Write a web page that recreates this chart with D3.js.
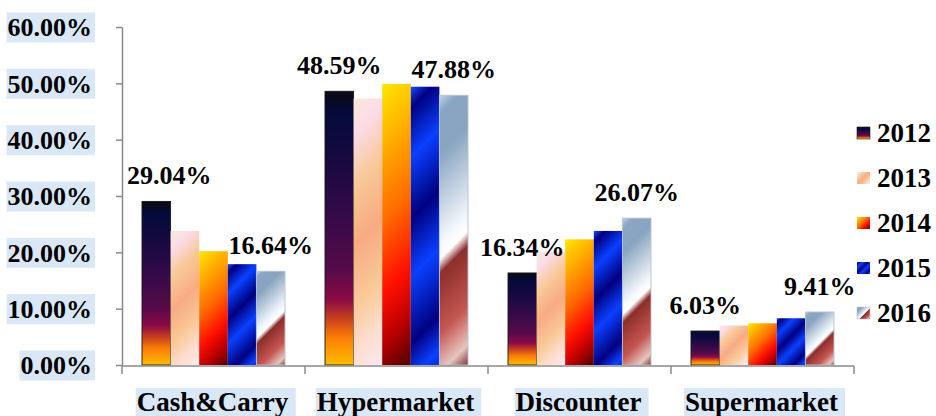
<!DOCTYPE html>
<html>
<head>
<meta charset="utf-8">
<script src="https://cdn.jsdelivr.net/npm/d3@7"></script>
<style>
  html, body { margin: 0; padding: 0; background: #ffffff; }
  svg { display: block; }
  text { font-family: "Liberation Serif", "Times New Roman", serif; font-weight: bold; fill: #000; }
</style>
</head>
<body>
<svg id="chart" width="936" height="416"></svg>
<script>
// ---- data ----
const categories = ["Cash&Carry", "Hypermarket", "Discounter", "Supermarket"];
const series = ["2012", "2013", "2014", "2015", "2016"];
const values2012 = [29.04, 48.59, 16.34, 6.03];
const values2013 = [23.8, 47.3, 20.1, 7.0];
const values2014 = [20.2, 49.9, 22.3, 7.4];
const values2015 = [17.9, 49.4, 23.8, 8.3];
const values2016 = [16.64, 47.88, 26.07, 9.41];
const yTicks = [0, 10, 20, 30, 40, 50, 60];
const labeledSeries = ["2012", "2016"];

const valuesBySeries = {
  "2012": values2012, "2013": values2013, "2014": values2014,
  "2015": values2015, "2016": values2016
};

// ---- fills (gradient presets) ----
const fills = {
  "2012": { dir: "v", stops: [[0,"#0b0a12"],[0.08,"#050a3c"],[0.2,"#10093f"],[0.45,"#340a48"],[0.65,"#560a48"],[0.76,"#8a0a46"],[0.83,"#c8401e"],[0.9,"#fb7d06"],[1,"#ffbd00"]], stroke: "#1a1a1a" },
  "2013": { dir: "d", stops: [[0,"#fbe8d8"],[0.12,"#fbdcea"],[0.3,"#f9c896"],[0.5,"#f8ab82"],[0.7,"#f9c896"],[0.88,"#fde0d4"],[1,"#fde8ee"]], stroke: "none" },
  "2014": { dir: "d", stops: [[0,"#ffe600"],[0.2,"#ffb000"],[0.45,"#ff6a00"],[0.68,"#ff1000"],[0.83,"#c00000"],[1,"#500000"]], stroke: "none" },
  "2015": { dir: "d", stops: [[0,"#1a4cff"],[0.07,"#000080"],[0.23,"#0a40ff"],[0.43,"#000080"],[0.62,"#0a40ff"],[0.84,"#000080"],[0.95,"#0a40ff"],[1,"#0030d0"]], stroke: "none" },
  "2016": { dir: "d", stops: [[0,"#c4d4e4"],[0.06,"#8aa6c4"],[0.2,"#88a4c0"],[0.5,"#f4f8fc"],[0.55,"#ffffff"],[0.6,"#8c2e2a"],[0.8,"#c45650"],[0.93,"#e6c4c0"],[1,"#7a3a30"]], stroke: "#b6c2d2" }
};

const svg = d3.select("#chart");
const defs = svg.append("defs");
let gradCount = 0;
// x, y are in the local coordinate system of the element using the gradient
function makeGrad(key, x, y, w, h) {
  const f = fills[key];
  const id = "g" + (gradCount++);
  const g = defs.append("linearGradient").attr("id", id).attr("gradientUnits", "userSpaceOnUse");
  if (f.dir === "v") {
    g.attr("x1", x).attr("y1", y).attr("x2", x).attr("y2", y + h);
  } else {
    const d = (w + h) / 2;
    g.attr("x1", x).attr("y1", y).attr("x2", x + d).attr("y2", y + d);
  }
  f.stops.forEach(s => g.append("stop").attr("offset", s[0]).attr("stop-color", s[1]));
  return "url(#" + id + ")";
}

// ---- scales ----
const x0 = d3.scaleBand().domain(categories).range([122, 854]).padding(0);
const x1 = d3.scaleBand().domain(series).range([20, x0.bandwidth() - 20]).padding(0);
const y = d3.scaleLinear().domain([0, 60]).range([365, 27]);

const labelBg = "#dae7f7";
const axisColor = "#8a8a8a";

// ---- y axis ----
const yAxisG = svg.append("g").attr("transform", "translate(122,0)")
  .call(d3.axisLeft(y).tickValues(yTicks).tickFormat(d => d3.format(".2f")(d) + "%").tickSize(6).tickSizeOuter(0).tickPadding(24));
yAxisG.select(".domain").attr("stroke", axisColor).attr("stroke-width", 1.5);
yAxisG.selectAll(".tick line").attr("stroke", axisColor).attr("stroke-width", 1.5);
yAxisG.selectAll(".tick text")
  .attr("font-size", 26).attr("fill", "#000")
  .style("font-family", "'Liberation Serif','Times New Roman',serif").style("font-weight", "bold")
  .attr("dy", "0.34em");
yAxisG.selectAll(".tick").each(function () {
  const t = d3.select(this).select("text");
  const bb = t.node().getBBox();
  d3.select(this).insert("rect", "text")
    .attr("x", bb.x - 1).attr("y", -15).attr("width", bb.width + 4).attr("height", 30)
    .attr("fill", labelBg);
});

// ---- bars ----
const groups = svg.append("g").selectAll("g").data(categories).join("g")
  .attr("transform", d => `translate(${x0(d)},0)`);

groups.each(function (cat, ci) {
  const g = d3.select(this);
  series.forEach(s => {
    const v = valuesBySeries[s][ci];
    const bx = x1(s);
    const by = y(v);
    const bw = x1.bandwidth();
    const bh = y(0) - y(v);
    g.append("rect")
      .attr("x", bx).attr("y", by).attr("width", bw).attr("height", bh)
      .attr("fill", makeGrad(s, bx, by, bw, bh))
      .attr("stroke", fills[s].stroke).attr("stroke-width", fills[s].stroke === "none" ? 0 : 0.9);
  });
});

// ---- x axis ----
const xAxisY = 366;
svg.append("line").attr("x1", 122).attr("x2", 854).attr("y1", xAxisY).attr("y2", xAxisY)
  .attr("stroke", axisColor).attr("stroke-width", 1.5);
const boundaries = categories.map(c => x0(c)).concat([x0(categories[categories.length - 1]) + x0.bandwidth()]);
svg.selectAll(".xtick").data(boundaries).join("line").attr("class", "xtick")
  .attr("x1", d => d).attr("x2", d => d).attr("y1", xAxisY).attr("y2", xAxisY + 8)
  .attr("stroke", axisColor).attr("stroke-width", 1.5);

const xl = svg.append("g").selectAll("g").data(categories).join("g")
  .attr("transform", d => `translate(${x0(d) + x0.bandwidth() / 2 - 1},411)`);
xl.append("text").attr("text-anchor", "middle").attr("font-size", 27).text(d => d);
xl.each(function () {
  const t = d3.select(this).select("text");
  const bb = t.node().getBBox();
  d3.select(this).insert("rect", "text")
    .attr("x", bb.x - 1).attr("y", -23).attr("width", bb.width + 8).attr("height", 32)
    .attr("fill", labelBg);
});

// ---- data labels ----
const labelShift = { "Cash&Carry|2012": 13 };
const labelData = [];
categories.forEach((c, ci) => labeledSeries.forEach(s => labelData.push({ c, s, v: valuesBySeries[s][ci] })));
svg.append("g").selectAll("text").data(labelData).join("text")
  .attr("x", d => x0(d.c) + x1(d.s) + x1.bandwidth() / 2 + (labelShift[d.c + "|" + d.s] || 0))
  .attr("y", d => y(d.v) - 17)
  .attr("text-anchor", "middle").attr("font-size", 26)
  .text(d => d3.format(".2f")(d.v) + "%");

// ---- legend ----
const leg = svg.append("g").selectAll("g").data(series).join("g")
  .attr("transform", (d, i) => `translate(857,${133 + i * 45})`);
leg.each(function (s) {
  const g = d3.select(this);
  g.append("rect").attr("x", 0).attr("y", -6).attr("width", 13).attr("height", 12)
    .attr("fill", makeGrad(s, 0, -6, 13, 12))
    .attr("stroke", fills[s].stroke).attr("stroke-width", fills[s].stroke === "none" ? 0 : 0.6);
  g.append("text").attr("x", 20).attr("y", 9).attr("font-size", 27).text(s);
});
</script>
</body>
</html>
